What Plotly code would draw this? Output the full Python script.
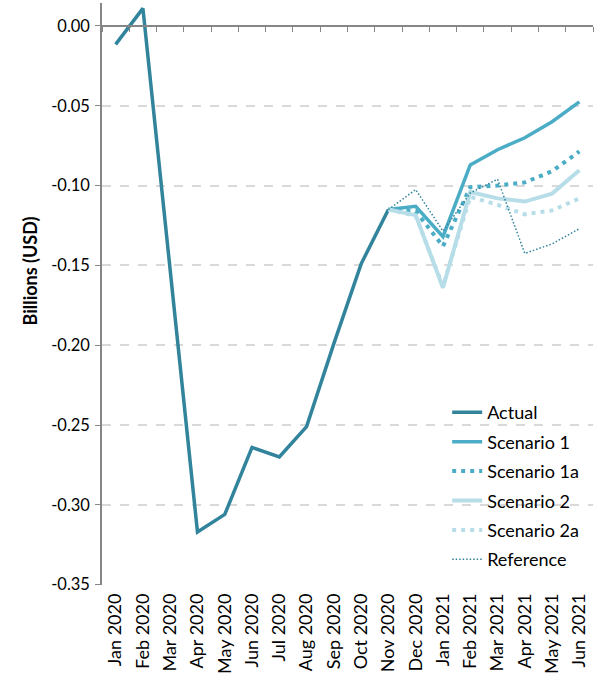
import plotly.graph_objects as go

months = ["Jan 2020", "Feb 2020", "Mar 2020", "Apr 2020", "May 2020", "Jun 2020",
          "Jul 2020", "Aug 2020", "Sep 2020", "Oct 2020", "Nov 2020", "Dec 2020",
          "Jan 2021", "Feb 2021", "Mar 2021", "Apr 2021", "May 2021", "Jun 2021"]

N = None
actual      = [-0.0115, 0.011, -0.153, -0.317, -0.306, -0.264, -0.270, -0.251, -0.199, -0.149, -0.115,
               N, N, N, N, N, N, N]
scenario_1  = [N]*10 + [-0.115, -0.113, -0.132, -0.087, -0.0775, -0.070, -0.060, -0.0475]
scenario_1a = [N]*10 + [-0.115, -0.116, -0.138, -0.101, -0.100, -0.098, -0.091, -0.0786]
scenario_2  = [N]*10 + [-0.115, -0.1185, -0.164, -0.104, -0.108, -0.110, -0.105, -0.0904]
scenario_2a = [N]*10 + [-0.115, -0.119, -0.163, -0.107, -0.112, -0.118, -0.1155, -0.108]
reference   = [N]*10 + [-0.115, -0.1025, -0.1285, -0.1046, -0.096, -0.1425, -0.1365, -0.127]

y_tickvals = [0.0, -0.05, -0.10, -0.15, -0.20, -0.25, -0.30, -0.35]
y_ticktext = ["0.00", "-0.05", "-0.10", "-0.15", "-0.20", "-0.25", "-0.30", "-0.35"]

FONT = "Lato"
DARK = "#31849B"
MID = "#4BACC6"
LIGHT = "#B7DEE8"
AXIS = "#868686"

y_min, y_max = -0.3502, 0.0144

fig = go.Figure()
series = [
    ("Actual", actual, DARK, 3.5, "solid"),
    ("Scenario 1", scenario_1, MID, 3.5, "solid"),
    ("Scenario 1a", scenario_1a, MID, 4, "4px,5px"),
    ("Scenario 2", scenario_2, LIGHT, 4, "solid"),
    ("Scenario 2a", scenario_2a, LIGHT, 4, "4px,5px"),
    ("Reference", reference, DARK, 1.5, "1.5px,2px"),
]
for name, vals, color, w, dash in series:
    fig.add_trace(go.Scatter(x=months, y=vals, name=name, mode="lines",
                             line=dict(color=color, width=w, dash=dash),
                             connectgaps=False, legendgroup=name))

# helper trace for the zero-crossing category axis (ticks only)
fig.add_trace(go.Scatter(x=months, y=actual, xaxis="x2", yaxis="y", mode="lines",
                         line=dict(color="rgba(0,0,0,0)", width=0),
                         showlegend=False, hoverinfo="skip"))

zero_pos = (0 - y_min) / (y_max - y_min)

fig.update_layout(
    width=604, height=677,
    margin=dict(l=102, r=11, t=3, b=92, autoexpand=False),
    paper_bgcolor="white", plot_bgcolor="white",
    font=dict(family=FONT, size=16, color="#000000"),
    showlegend=True,
    legend=dict(x=0.703, y=0.328, xanchor="left", yanchor="top",
                bgcolor="rgba(0,0,0,0)", font=dict(size=18, family=FONT),
                tracegroupgap=3),
    xaxis=dict(type="category", categoryorder="array", categoryarray=months,
               range=[-0.5, 17.5], tickangle=-90, showgrid=False, showline=False,
               ticks="", zeroline=False, tickfont=dict(size=18, family=FONT),
               ticklabelstandoff=4, automargin=False),
    xaxis2=dict(type="category", categoryorder="array", categoryarray=months,
                range=[-0.5, 17.5], overlaying="x", anchor="free", position=zero_pos,
                side="bottom", showline=True, linecolor=AXIS, linewidth=1.5,
                ticks="outside", tickson="boundaries", ticklen=5, tickcolor=AXIS,
                showticklabels=False, showgrid=False, zeroline=False, automargin=False),
    yaxis=dict(range=[y_min, y_max], tickvals=y_tickvals, ticktext=y_ticktext,
               showline=True, linecolor=AXIS, linewidth=1.5,
               ticks="outside", ticklen=5, tickcolor=AXIS,
               showgrid=True, gridcolor="#D9D9D9", griddash="dash", gridwidth=1.5,
               zeroline=False, tickfont=dict(size=16.5, family=FONT),
               ticklabelstandoff=2, automargin=False),
    annotations=[dict(text="<b>Billions (USD)</b>", textangle=-90, xref="paper", yref="paper",
                      x=-0.147, y=0.54, xanchor="center", yanchor="middle", showarrow=False,
                      font=dict(size=18, family=FONT, color="#000000"))],
)

fig.write_html("out.html", config={"displayModeBar": False},
               post_script="document.body.style.margin='0px';document.body.style.padding='0px';")
